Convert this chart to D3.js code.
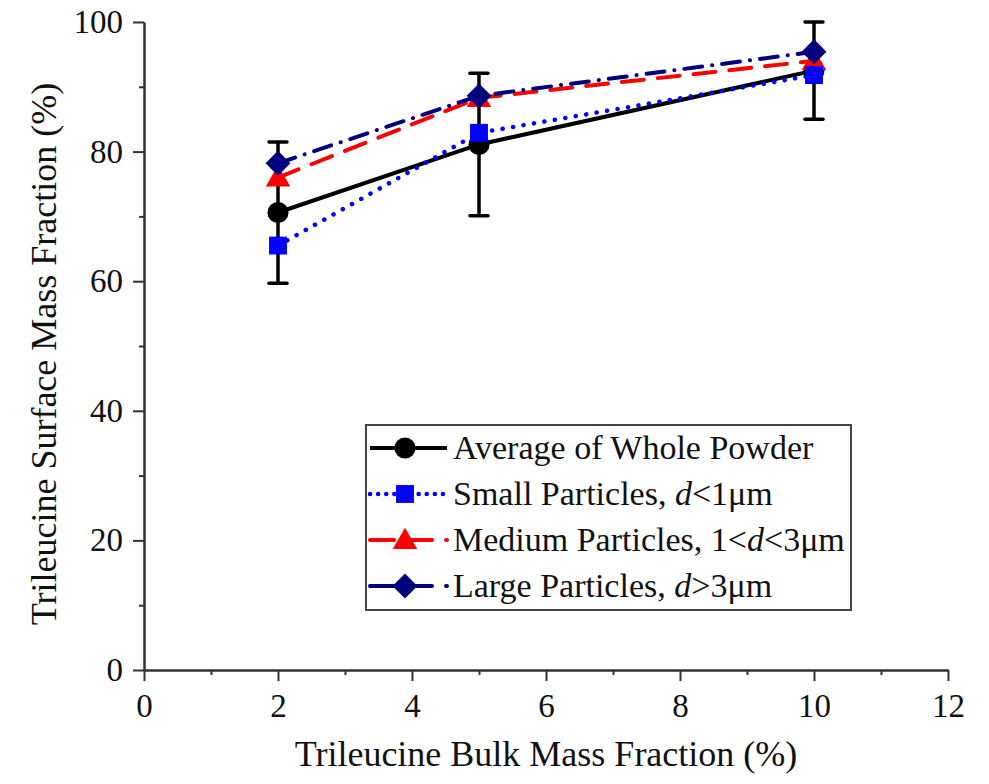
<!DOCTYPE html>
<html>
<head>
<meta charset="utf-8">
<script src="https://cdn.jsdelivr.net/npm/d3@7"></script>
<style>
  body { margin: 0; background: #fff; }
  svg { font-family: "Liberation Serif", "Times New Roman", serif; }
</style>
</head>
<body>
<div id="chart"></div>
<script>
// Data
var bulkFraction = [2, 5, 10];
var avgWhole = [70.6, 81.1, 92.5];
var avgError = [10.9, 11.0, 7.5];
var smallParticles = [65.5, 82.9, 91.8];
var mediumParticles = [76.0, 88.3, 94.0];
var largeParticles = [78.2, 88.6, 95.4];
var xTicks = [0, 2, 4, 6, 8, 10, 12];
var xMinor = [1, 3, 5, 7, 9, 11];
var yTicks = [0, 20, 40, 60, 80, 100];
var yMinor = [10, 30, 50, 70, 90];

// Constants:
var WIDTH = 989, HEIGHT = 784;
var PLOT = { left: 144, right: 948, top: 22, bottom: 670 };

var svg = d3.select('#chart').append('svg')
  .attr('width', WIDTH)
  .attr('height', HEIGHT);

var x = d3.scaleLinear().domain([0, 12]).range([PLOT.left, PLOT.right]);
var y = d3.scaleLinear().domain([0, 100]).range([PLOT.bottom, PLOT.top]);

// series in drawing order (legend order is different)
var series = [
  { name: 'avg', values: avgWhole, color: '#000000', dash: null, marker: 'circle' },
  { name: 'medium', values: mediumParticles, color: '#ff0000', dash: '22 14', marker: 'triangle' },
  { name: 'small', values: smallParticles, color: '#0000ff', dash: '0.1 10.5', marker: 'square' },
  { name: 'large', values: largeParticles, color: '#00007f', dash: '18 10 0.1 10', marker: 'diamond' }
];

var symbols = {
  circle: d3.symbol().type(d3.symbolCircle).size(350),
  square: d3.symbol().type(d3.symbolSquare).size(320),
  triangle: d3.symbol().type(d3.symbolTriangle).size(260),
  diamond: d3.symbol().type(d3.symbolSquare).size(310)
};
// the diamond is a square turned by 45 degrees
var ROTATE = { diamond: ' rotate(45)' };

// Axes
function styleAxis(g) {
  g.select('.domain').attr('stroke', '#333').attr('stroke-width', 2);
  g.selectAll('.tick line').attr('stroke', '#333').attr('stroke-width', 2);
  g.selectAll('.tick text')
    .attr('font-family', '"Liberation Serif", "Times New Roman", serif')
    .attr('font-size', 33)
    .attr('fill', '#111');
}

svg.append('g')
  .attr('transform', 'translate(0,' + PLOT.bottom + ')')
  .call(d3.axisBottom(x).tickValues(xMinor).tickSize(5).tickSizeOuter(0).tickFormat(''))
  .call(styleAxis);
svg.append('g')
  .attr('transform', 'translate(' + PLOT.left + ',0)')
  .call(d3.axisLeft(y).tickValues(yMinor).tickSize(5).tickSizeOuter(0).tickFormat(''))
  .call(styleAxis);

svg.append('g')
  .attr('transform', 'translate(0,' + PLOT.bottom + ')')
  .call(d3.axisBottom(x).tickValues(xTicks).tickSize(11).tickSizeOuter(0).tickPadding(13))
  .call(styleAxis);
svg.append('g')
  .attr('transform', 'translate(' + PLOT.left + ',0)')
  .call(d3.axisLeft(y).tickValues(yTicks).tickSize(11).tickSizeOuter(0).tickPadding(10))
  .call(styleAxis);

// Axis titles
svg.append('text')
  .attr('x', (PLOT.left + PLOT.right) / 2)
  .attr('y', 766)
  .attr('text-anchor', 'middle')
  .attr('font-size', 36)
  .attr('fill', '#111')
  .text('Trileucine Bulk Mass Fraction (%)');

svg.append('text')
  .attr('transform', 'translate(56,' + ((PLOT.top + PLOT.bottom) / 2 + 8) + ') rotate(-90)')
  .attr('text-anchor', 'middle')
  .attr('font-size', 36)
  .attr('fill', '#111')
  .text('Trileucine Surface Mass Fraction (%)');

// Error bars for the whole powder average
var errG = svg.append('g').attr('class', 'errorbars');
bulkFraction.forEach(function(b, i) {
  var cx = x(b), top = y(avgWhole[i] + avgError[i]), bot = y(avgWhole[i] - avgError[i]);
  errG.append('line')
    .attr('x1', cx).attr('x2', cx).attr('y1', top).attr('y2', bot)
    .attr('stroke', '#000').attr('stroke-width', 3.5);
  [top, bot].forEach(function(yy) {
    errG.append('line')
      .attr('x1', cx - 9).attr('x2', cx + 9).attr('y1', yy).attr('y2', yy)
      .attr('stroke', '#000').attr('stroke-width', 3.5).attr('stroke-linecap', 'round');
  });
});

// Lines and markers
var line = d3.line()
  .x(function(d, i) { return x(bulkFraction[i]); })
  .y(function(d) { return y(d); });

series.forEach(function(s) {
  var g = svg.append('g').attr('class', 'series ' + s.name);
  g.append('path')
    .attr('d', line(s.values))
    .attr('fill', 'none')
    .attr('stroke', s.color)
    .attr('stroke-width', s.name == 'small' ? 4.5 : 4)
    .attr('stroke-linecap', s.dash ? 'round' : 'butt')
    .attr('stroke-dasharray', s.dash);
  g.selectAll('path.marker')
    .data(s.values)
    .enter()
    .append('path')
    .attr('class', 'marker')
    .attr('d', symbols[s.marker])
    .attr('transform', function(d, i) {
      var off = s.marker == 'triangle' ? 2 : 0;
      return 'translate(' + x(bulkFraction[i]) + ',' + (y(d) + off) + ')' + (ROTATE[s.marker] || '');
    })
    .attr('fill', s.color);
});

// Legend
var legendItems = [
  { key: 'avg', label: [{ t: 'Average of Whole Powder' }] },
  { key: 'small', label: [{ t: 'Small Particles, ' }, { t: 'd', it: true }, { t: '<1μm' }] },
  { key: 'medium', label: [{ t: 'Medium Particles, 1<' }, { t: 'd', it: true }, { t: '<3μm' }] },
  { key: 'large', label: [{ t: 'Large Particles, ' }, { t: 'd', it: true }, { t: '>3μm' }] }
];

var legend = svg.append('g').attr('class', 'legend');
legend.append('rect')
  .attr('x', 366).attr('y', 425)
  .attr('width', 485).attr('height', 185)
  .attr('fill', '#fff')
  .attr('stroke', '#444')
  .attr('stroke-width', 2);

legendItems.forEach(function(item, i) {
  var s = series.filter(function(d) { return d.name == item.key; })[0];
  var cy = 448 + i * 46;
  var row = legend.append('g').attr('transform', 'translate(0,' + cy + ')');
  row.append('line')
    .attr('x1', 370).attr('x2', 447).attr('y1', 0).attr('y2', 0)
    .attr('stroke', s.color)
    .attr('stroke-width', s.name == 'small' ? 4.5 : 4)
    .attr('stroke-linecap', s.dash ? 'round' : 'butt')
    .attr('stroke-dasharray', s.name == 'small' ? '0.1 8' : (s.dash ? '24 14' : null));
  row.append('path')
    .attr('d', symbols[s.marker])
    .attr('transform', 'translate(405,' + (s.marker == 'triangle' ? 2 : 0) + ')' + (ROTATE[s.marker] || ''))
    .attr('fill', s.color);
  var txt = row.append('text')
    .attr('x', 453).attr('y', 11)
    .attr('font-size', 34)
    .attr('fill', '#111');
  item.label.forEach(function(p) {
    txt.append('tspan')
      .attr('font-style', p.it ? 'italic' : null)
      .text(p.t);
  });
});
</script>
</body>
</html>
